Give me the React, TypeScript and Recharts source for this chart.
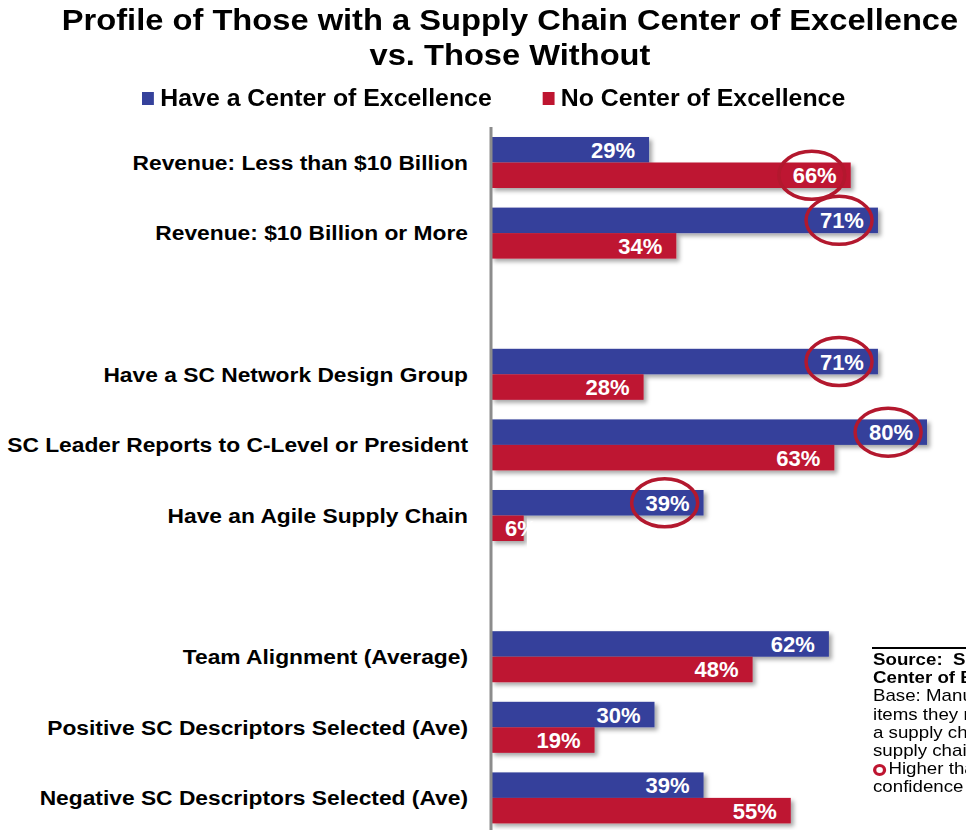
import { BarChart, Bar, XAxis, YAxis, LabelList } from 'recharts';

const categories = [
  'Revenue: Less than $10 Billion',
  'Revenue: $10 Billion or More',
  ' ',
  'Have a SC Network Design Group',
  'SC Leader Reports to C-Level or President',
  'Have an Agile Supply Chain',
  '  ',
  'Team Alignment (Average)',
  'Positive SC Descriptors Selected (Ave)',
  'Negative SC Descriptors Selected (Ave)',
];
const haveCoe = [29, 71, null, 71, 80, 39, null, 62, 30, 39];
const noCoe = [66, 34, null, 28, 63, 6, null, 48, 19, 55];
// circled = significantly higher than the other group
const haveCircled = [false, true, false, true, true, true, false, false, false, false];
const noCircled = [true, false, false, false, false, false, false, false, false, false];

const BLUE = '#35419b';
const RED = '#be1530';
const FONT = '"Liberation Sans", Arial, sans-serif';

const data = categories.map((name, i) => ({
  name,
  have: haveCoe[i],
  no: noCoe[i],
  haveC: haveCircled[i],
  noC: noCircled[i],
}));

const BarShape = (props: any) => {
  const { x, y, width, height, fill } = props;
  if (!width || width <= 0) return null;
  return <rect x={x} y={y} width={width} height={height} fill={fill} filter='url(#barShadow)' />;
};

const labelKey = (key: 'have' | 'no', flag: 'haveC' | 'noC') => (d: any) =>
  d[key] == null ? null : `${d[key]}|${d[flag] ? 1 : 0}`;

const BarLabel = (props: any) => {
  const { x, y, width, height, value } = props;
  if (value == null || width == null) return null;
  const [num, c] = String(value).split('|');
  const label = `${num}%`;
  const textW = label.length * 12.6 + 6;
  const short = width < 50;
  const right = short ? x + 14 + textW : x + width - 14;
  const cx = right - textW / 2;
  const cy = y + height / 2;
  return (
    <g>
      <text
        x={short ? x + 14 : right}
        y={cy + 8}
        textAnchor={short ? 'start' : 'end'}
        fill='#fff'
        fontFamily={FONT}
        fontWeight='bold'
        fontSize={22}
      >
        {label}
      </text>
      {c === '1' && (
        <ellipse cx={cx - 3} cy={cy} rx={33} ry={24} fill='none' stroke='#b3182e' strokeWidth={3.5} />
      )}
    </g>
  );
};

const CategoryTick = ({ x, y, payload }: any) => (
  <text
    transform={`translate(${x - 21},${y + 7.5}) scale(1.085,1)`}
    textAnchor='end'
    fill='#000'
    fontFamily={FONT}
    fontWeight='bold'
    fontSize={21}
  >
    {payload.value}
  </text>
);

const sourceLines = [
  { t: 'Source:\u00a0\u00a0Supply Chain Insights LLC', b: true },
  { t: 'Center of Excellence Study', b: true },
  { t: 'Base: Manufacturers who selected the', b: false },
  { t: 'items they rate as describing', b: false },
  { t: 'a supply chain center of excellence', b: false },
  { t: 'supply chain organization', b: false },
];

const App = () => {
  return (
    <div
      style={{
        position: 'fixed',
        left: 0,
        top: 0,
        width: 966,
        height: 830,
        overflow: 'hidden',
        background: '#fff',
        fontFamily: FONT,
      }}
    >
      <svg width={0} height={0} style={{ position: 'absolute' }}>
        <defs>
          <filter id='barShadow' x='-5%' y='-20%' width='115%' height='160%'>
            <feDropShadow dx={3} dy={3} stdDeviation={2} floodColor='#000' floodOpacity={0.35} />
          </filter>
        </defs>
      </svg>
      <div
        style={{
          position: 'absolute',
          top: 3,
          left: 0,
          width: 1020,
          textAlign: 'center',
          fontWeight: 'bold',
          fontSize: 29,
          lineHeight: '35px',
          color: '#000',
          transform: 'scaleX(1.126)',
          transformOrigin: '510px 0',
        }}
      >
        Profile of Those with a Supply Chain Center of Excellence
        <br />
        vs. Those Without
      </div>
      <div
        style={{
          position: 'absolute',
          top: 85,
          left: 142,
          display: 'flex',
          alignItems: 'center',
          fontWeight: 'bold',
          fontSize: 23,
          whiteSpace: 'nowrap',
          transform: 'scaleX(1.08)',
          transformOrigin: 'left top',
        }}
      >
        <span style={{ width: 11, height: 13, background: BLUE, marginRight: 6 }} />
        <span>Have a Center of Excellence</span>
        <span style={{ width: 11, height: 13, background: RED, marginLeft: 47, marginRight: 6 }} />
        <span>No Center of Excellence</span>
      </div>
      <div style={{ position: 'absolute', left: 0, top: 0 }}>
        <BarChart
          width={1036}
          height={840}
          data={data}
          layout='vertical'
          margin={{ top: 127, right: 0, bottom: 7, left: 0 }}
          barGap={0}
          barSize={25.5}
        >
          <XAxis type='number' domain={[0, 100]} hide />
          <YAxis
            type='category'
            dataKey='name'
            width={491}
            tickLine={false}
            tickSize={0}
            axisLine={{ stroke: '#8c8c8c', strokeWidth: 3 }}
            tick={<CategoryTick />}
            interval={0}
          />
          <Bar dataKey='have' fill={BLUE} shape={<BarShape />} isAnimationActive={false}>
            <LabelList dataKey={labelKey('have', 'haveC')} content={<BarLabel />} />
          </Bar>
          <Bar dataKey='no' fill={RED} shape={<BarShape />} isAnimationActive={false}>
            <LabelList dataKey={labelKey('no', 'noC')} content={<BarLabel />} />
          </Bar>
        </BarChart>
      </div>
      <div style={{ position: 'absolute', left: 872, top: 647, width: 300, borderTop: '2px solid #000' }} />
      <div
        style={{
          position: 'absolute',
          left: 873,
          top: 651,
          fontSize: 17,
          lineHeight: '18.2px',
          color: '#000',
          whiteSpace: 'nowrap',
          transform: 'scaleX(1.1)',
          transformOrigin: 'left top',
        }}
      >
        {sourceLines.map((l) => (
          <div key={l.t} style={{ fontWeight: l.b ? 'bold' : 'normal' }}>
            {l.t}
          </div>
        ))}
        <div>
          <span
            style={{
              display: 'inline-block',
              width: 6,
              height: 6,
              border: `3px solid ${RED}`,
              borderRadius: '50%',
              marginRight: 2,
              verticalAlign: 'middle',
            }}
          />
          Higher than the other group at 90%
        </div>
        <div>confidence level</div>
      </div>
    </div>
  );
};

export default App;
